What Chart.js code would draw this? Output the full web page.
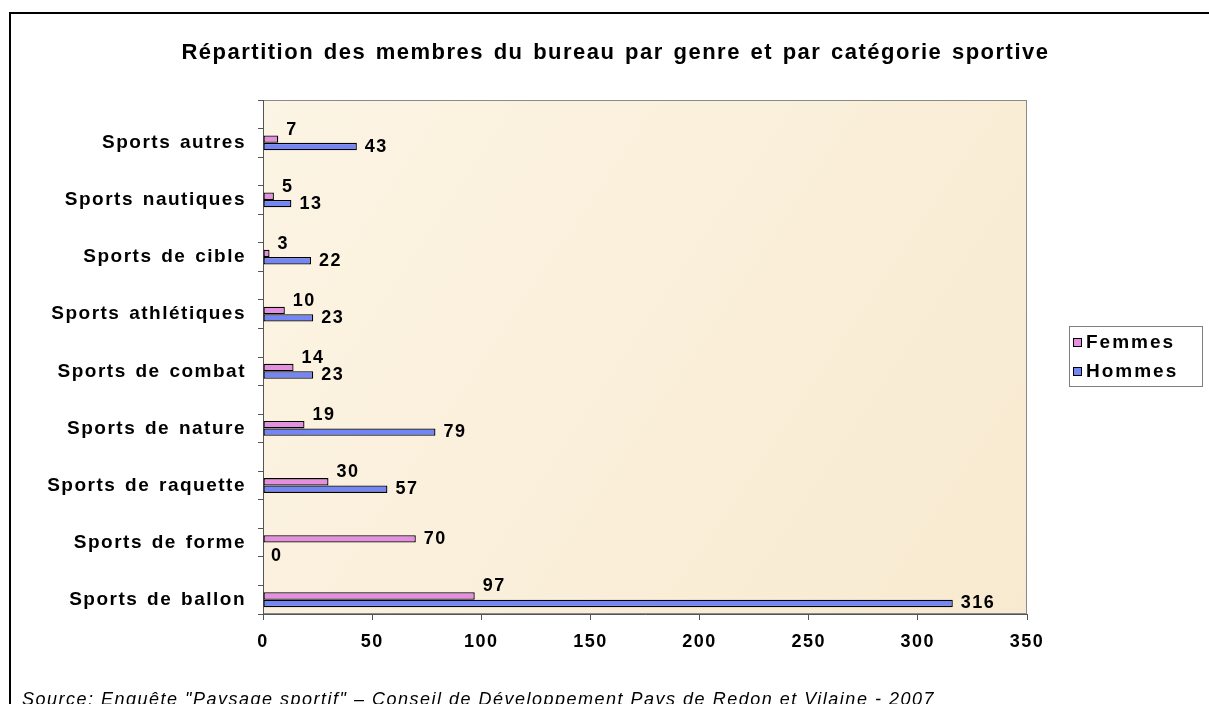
<!DOCTYPE html>
<html>
<head>
<meta charset="utf-8">
<script src="https://cdn.jsdelivr.net/npm/chart.js@4.4.1/dist/chart.umd.min.js"></script>
<style>
  html, body { margin: 0; padding: 0; overflow: hidden; background: #fff; }
  #frame { position: absolute; left: 9px; top: 12px; width: 1400px; height: 900px; border: 2px solid #000; }
  #wrap { position: absolute; left: 0; top: 0; width: 1209px; height: 704px; }
  #source { position: absolute; left: 22px; top: 690px; font: italic 18px "Liberation Sans", Arial, sans-serif;
            letter-spacing: 1.5px; line-height: 18px; white-space: nowrap; color: #000; }
</style>
</head>
<body>
<div id="frame"></div>
<div id="wrap"><canvas id="chart"></canvas></div>
<div id="source">Source: Enquête "Paysage sportif" – Conseil de Développement Pays de Redon et Vilaine - 2007</div>
<script>
// categories top to bottom, as they appear in the chart
const categories = ['Sports autres', 'Sports nautiques', 'Sports de cible', 'Sports athlétiques',
                    'Sports de combat', 'Sports de nature', 'Sports de raquette', 'Sports de forme', 'Sports de ballon'];
const femmes = [7, 5, 3, 10, 14, 19, 30, 70, 97];
const hommes = [43, 13, 22, 23, 23, 79, 57, 0, 316];
const seriesNames = ['Femmes', 'Hommes'];
const xTicks = [0, 50, 100, 150, 200, 250, 300, 350];
const chartTitle = 'Répartition des membres du bureau par genre et par catégorie sportive';

// the original sheet has an empty row above every category
const labels = [];
const femmesRows = [];
const hommesRows = [];
categories.forEach((c, i) => {
    labels.push('', c);
    femmesRows.push(null, femmes[i]);
    hommesRows.push(null, hommes[i]);
});

const FONT = '"Liberation Sans", Arial, sans-serif';
Chart.defaults.font.family = FONT;
Chart.defaults.font.size = 18;
Chart.defaults.font.weight = 'bold';
Chart.defaults.color = '#000';

const PINK = '#e58fe0';
const BLUE = '#7485f5';

const decor = {
    id: 'decor',
    beforeDraw(chart) {
        const { ctx, chartArea: a } = chart;
        ctx.letterSpacing = '1.5px';
        ctx.wordSpacing = '2px';
        ctx.save();
        const g = ctx.createLinearGradient(a.left, a.top, a.right, a.bottom);
        g.addColorStop(0, '#fcf4e4');
        g.addColorStop(0.5, '#faefda');
        g.addColorStop(1, '#f8ead0');
        ctx.fillStyle = g;
        ctx.fillRect(a.left, a.top, a.right - a.left, a.bottom - a.top);
        ctx.strokeStyle = '#8a8a8a';
        ctx.lineWidth = 1;
        ctx.strokeRect(a.left + 0.5, a.top + 0.5, a.right - a.left - 1, a.bottom - a.top - 1);
        ctx.restore();
    },
    afterDatasetsDraw(chart) {
        const ctx = chart.ctx;
        const mf = chart.getDatasetMeta(0).data;
        const mh = chart.getDatasetMeta(1).data;
        const df = chart.data.datasets[0].data;
        const dh = chart.data.datasets[1].data;
        ctx.save();
        ctx.font = 'bold 18px ' + FONT;
        ctx.fillStyle = '#000';
        ctx.textAlign = 'left';
        ctx.textBaseline = 'middle';
        for (let i = 0; i < df.length; i++) {
            if (df[i] == null) continue;
            let yf = mf[i].y, yh = mh[i].y;
            // keep the two labels apart, the shorter bar's label moves
            if (yh - yf < 17) {
                if (df[i] <= dh[i]) yf = yh - 17;
                else yh = yf + 17;
            }
            ctx.fillText(String(df[i]), mf[i].x + 8, yf);
            ctx.fillText(String(dh[i]), mh[i].x + 8, yh);
        }
        ctx.restore();
    },
    afterDraw(chart) {
        const ctx = chart.ctx;
        const lx = chart.chartArea.right + 42, ly = 326;
        ctx.save();
        ctx.strokeStyle = '#7f7f7f';
        ctx.lineWidth = 1;
        ctx.strokeRect(lx + 0.5, ly + 0.5, 133, 60);
        ctx.font = 'bold 19px ' + FONT;
        ctx.letterSpacing = '2px';
        ctx.textAlign = 'left';
        ctx.textBaseline = 'middle';
        chart.data.datasets.forEach((ds, k) => {
            const y = ly + 16 + k * 29;
            ctx.fillStyle = ds.backgroundColor;
            ctx.fillRect(lx + 4, y - 4, 8, 8);
            ctx.strokeStyle = '#000';
            ctx.strokeRect(lx + 4.5, y - 3.5, 8, 8);
            ctx.fillStyle = '#000';
            ctx.fillText(ds.label, lx + 17, y + 1);
        });
        ctx.restore();
    }
};

const ctx = document.getElementById('chart').getContext('2d');
const chart = new Chart(ctx, {
    type: 'bar',
    data: {
        labels: labels,
        datasets: [
            {
                label: seriesNames[0],
                data: femmesRows,
                backgroundColor: PINK,
                borderColor: '#000',
                borderWidth: 1.3,
                borderSkipped: false
            },
            {
                label: seriesNames[1],
                data: hommesRows,
                backgroundColor: BLUE,
                borderColor: '#000',
                borderWidth: 1.3,
                borderSkipped: false
            }
        ]
    },
    options: {
        indexAxis: 'y',
        responsive: true,
        maintainAspectRatio: false,
        animation: false,
        categoryPercentage: 0.52,
        barPercentage: 1,
        layout: { padding: { top: 27, left: 24, right: 2, bottom: 50 } },
        plugins: {
            legend: { display: false },
            tooltip: { enabled: false },
            title: {
                display: true,
                text: chartTitle,
                font: { size: 22, weight: 'bold' },
                color: '#000',
                padding: { top: 13, bottom: 33.6 }
            }
        },
        scales: {
            x: {
                type: 'linear',
                min: xTicks[0],
                max: xTicks[xTicks.length - 1],
                afterBuildTicks: s => { s.ticks = xTicks.map(v => ({ value: v })); },
                afterFit: s => { s.height = 40; },
                ticks: { padding: 11, color: '#000' },
                grid: { drawOnChartArea: false, drawTicks: true, tickLength: 6, color: '#555' },
                border: { color: '#555', width: 1 }
            },
            y: {
                type: 'category',
                afterFit: s => { s.width = 239; },
                ticks: { autoSkip: false, padding: 12, color: '#000', font: { size: 19 } },
                grid: { drawOnChartArea: false, drawTicks: true, tickLength: 5, color: '#555', offset: true },
                border: { color: '#555', width: 1 }
            },
            // empty strip on the right that holds the legend
            side: {
                type: 'linear',
                position: 'right',
                afterFit: s => { s.width = 180; },
                ticks: { display: false },
                grid: { display: false, drawTicks: false },
                border: { display: false }
            }
        }
    },
    plugins: [decor]
});
</script>
</body>
</html>
